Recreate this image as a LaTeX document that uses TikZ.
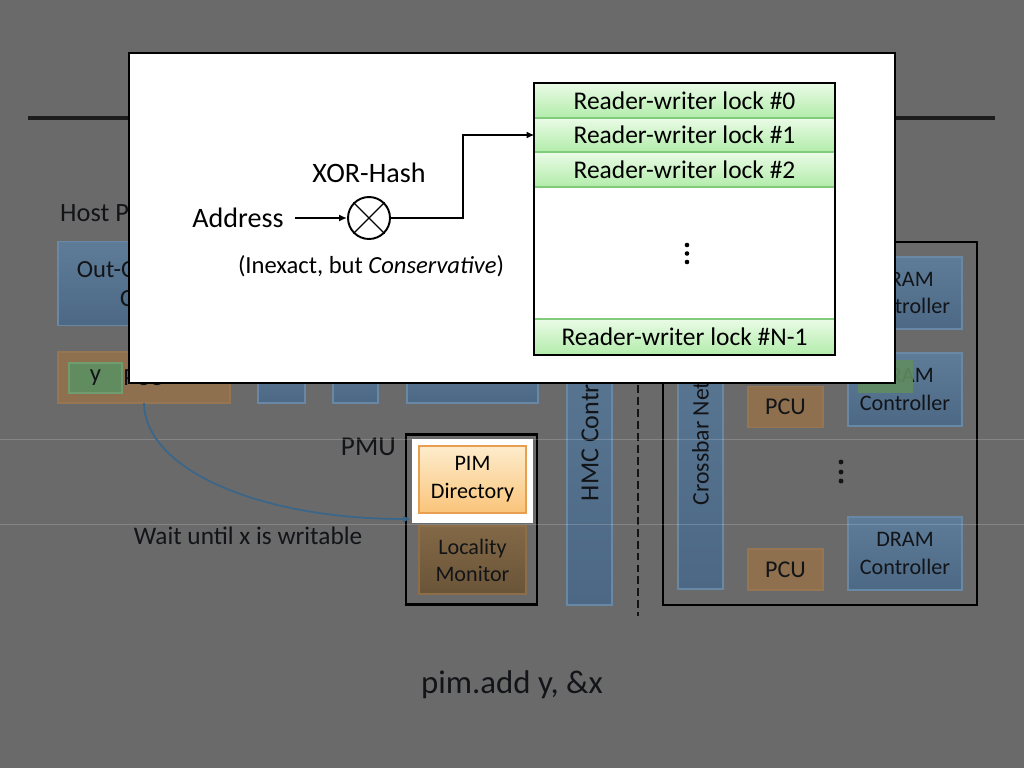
\documentclass[tikz,border=0pt]{standalone}
\usepackage{fontspec}
\setmainfont{Carlito}
\usetikzlibrary{arrows.meta}

\definecolor{dimbg}{RGB}{106,106,106}
\definecolor{dimtext}{RGB}{18,20,24}
\definecolor{dimtop}{RGB}{94,124,152}
\definecolor{dimbot}{RGB}{76,104,132}
\definecolor{dimedge}{RGB}{104,136,166}
\definecolor{pcufill}{RGB}{142,112,78}
\definecolor{pcuedge}{RGB}{150,118,82}
\definecolor{loctop}{RGB}{130,104,70}
\definecolor{locbot}{RGB}{106,84,56}
\definecolor{locedge}{RGB}{140,110,72}
\definecolor{ygreen}{RGB}{96,140,96}
\definecolor{waitblue}{RGB}{58,102,138}
\definecolor{locktop}{RGB}{234,251,230}
\definecolor{lockbot}{RGB}{178,236,170}
\definecolor{lockedge}{RGB}{128,204,122}
\definecolor{pimtop}{RGB}{253,236,204}
\definecolor{pimbot}{RGB}{250,196,122}
\definecolor{pimedge}{RGB}{232,160,80}

\begin{document}
\begin{tikzpicture}[x=0.02cm,y=-0.02cm,
    wh/.style 2 args={minimum width=#1*0.02cm, minimum height=#2*0.02cm, inner sep=0pt, outer sep=0pt},
    dimbox/.style={draw=dimedge, line width=0.6pt, top color=dimtop, bottom color=dimbot, text=dimtext, align=center, font=\fontsize{12.6}{15.5}\selectfont},
    pcubox/.style={draw=pcuedge, line width=0.6pt, fill=pcufill, text=dimtext, font=\fontsize{13.7}{16}\selectfont},
    lockrow/.style={wh={300}{#1}, draw=lockedge, line width=0.6pt, top color=locktop, bottom color=lockbot, font=\fontsize{14.5}{17}\selectfont},
    conn/.style={line width=0.9pt, -{Latex[length=1.6mm,width=1.4mm]}},
    lbl/.style={text=dimtext, font=\fontsize{14.4}{17}\selectfont}]

\useasboundingbox (0,0) rectangle (1024,768);
\fill[dimbg] (0,0) rectangle (1024,768);

% ===== Slide behind (dimmed) =====
\draw[line width=2.8pt, color={rgb,255:red,28;green,28;blue,28}] (28,118) -- (995,118);

\node[lbl, anchor=west, font=\fontsize{15}{18}\selectfont] (hostlbl) at (54,213) {Host Processor};
\node[dimbox, wh={171}{84}, font=\fontsize{14}{16.5}\selectfont] (ooo) at (143.5,283.5) {Out-Of-Order\\Core};

\node[pcubox, wh={172}{51}] (hpcu) at (144,377.5) {};
\node[draw={rgb,255:red,112;green,156;blue,112}, line width=0.6pt, fill=ygreen, text=dimtext, wh={53}{30}, font=\fontsize{14}{16}\selectfont] (yreg) at (95.5,378) {y};
\node[lbl, anchor=west, inner sep=0pt, font=\fontsize{14}{16}\selectfont] (hpculbl) at (123,378) {PCU};

\node[dimbox, wh={47}{51}] (cache1) at (281.5,377.5) {};
\node[dimbox, wh={45}{51}] (cache2) at (355.5,377.5) {};
\node[dimbox, wh={131}{51}] (cache3) at (472.5,377.5) {};

\node[dimbox, rotate=90, wh={372}{45}, font=\fontsize{14.8}{17}\selectfont] (hmc) at (589.5,419) {HMC Controller};
\draw[dashed, dash pattern=on 4.5pt off 2.3pt, line width=1.1pt, color={rgb,255:red,20;green,20;blue,20}] (638,230) -- (638,616);

\node[draw=black, line width=1.4pt, wh={314}{363}] (pimbox) at (820,423.5) {};
\node[dimbox, rotate=90, wh={340}{45}, font=\fontsize{13.5}{16}\selectfont] (xbar) at (700.5,419) {Crossbar Network};
\node[pcubox, wh={75}{41}] (pcu1) at (785.5,407) {PCU};
\node[pcubox, wh={75}{41}] (pcu2) at (785.5,569.5) {PCU};
\node[dimbox, wh={114}{72}] (dram1) at (905,293) {DRAM\\Controller};
\node[dimbox, wh={114}{73}] (dram2) at (905,389.5) {DRAM\\Controller};
\node[fill=ygreen, opacity=0.9, wh={55}{33}] (xreg) at (885.5,376.5) {};
\node[dimbox, wh={114}{73}] (dram3) at (905,553.5) {DRAM\\Controller};
\foreach \yy in {462,472,481}
    \fill[dimtext] (841,\yy) circle (1.4pt);

\node[draw=black, line width=1.3pt, wh={131}{170}] (pmu) at (471.5,519.5) {};
\node[lbl, anchor=east, font=\fontsize{15.5}{18}\selectfont] (pmulbl) at (402,447) {PMU};
\node[draw=locedge, line width=0.6pt, top color=loctop, bottom color=locbot, text=dimtext, align=center, wh={107}{68}, font=\fontsize{12.6}{15.5}\selectfont] (locmon) at (472.5,560) {Locality\\Monitor};

\node[lbl] (waitlbl) at (248,536) {Wait until x is writable};
\node[lbl, font=\fontsize{18.7}{22}\selectfont] (pimadd) at (512,685) {pim.add y, \&x};

% faint edges of the spotlight
\draw[white, opacity=0.18, line width=0.5pt] (0,439) -- (1024,439);
\draw[white, opacity=0.18, line width=0.5pt] (0,524) -- (1024,524);

% ===== Highlighted PIM directory =====
\coordinate (waitend) at (411,519);
\draw[conn, waitblue, line width=1pt] (hpcu.south) .. controls (145,470) and (260,519) .. (waitend);
\node[fill=white, wh={121}{84}] (pimhl) at (472.5,481) {};
\node[draw=pimedge, line width=0.6pt, top color=pimtop, bottom color=pimbot, align=center, wh={107}{67}, font=\fontsize{12.6}{16}\selectfont] (pimdir) at (472.5,479.5) {PIM\\Directory};

% ===== Popup =====
\node[draw=black, fill=white, line width=1.4pt, wh={766}{330}] (popup) at (512,218) {};

\node[font=\fontsize{16}{19}\selectfont] (addr) at (238,218) {Address};
\node[font=\fontsize{16}{19}\selectfont] (xorlbl) at (369,173) {XOR-Hash};
\node[circle, draw, line width=1.1pt, minimum size=0.84cm, inner sep=0pt] (xor) at (369,218) {};
\draw[line width=0.7pt] (xor.north west) -- (xor.south east);
\draw[line width=0.7pt] (xor.north east) -- (xor.south west);
\node[font=\fontsize{14}{17}\selectfont] (inexact) at (371,266) {(Inexact, but \textit{Conservative})};

\foreach \i/\yy/\hh in {0/100.5/35,1/135/34,2/169.5/35}
    \node[lockrow=\hh] (lock\i) at (684.5,\yy) {Reader-writer lock \#\i};
\node[lockrow=36] (lockN) at (684.5,337) {Reader-writer lock \#N-1};
\node[draw=black, line width=1.4pt, wh={301}{272}] (locktab) at (684.5,219) {};
\foreach \yy in {245,253.5,262}
    \fill (687,\yy) circle (1.3pt);

\draw[conn, shorten <=3pt] (addr.east) -- (xor.west);
\draw[conn] (xor.east) -- ++(72,0) |- (lock1.west);

\end{tikzpicture}
\end{document}
